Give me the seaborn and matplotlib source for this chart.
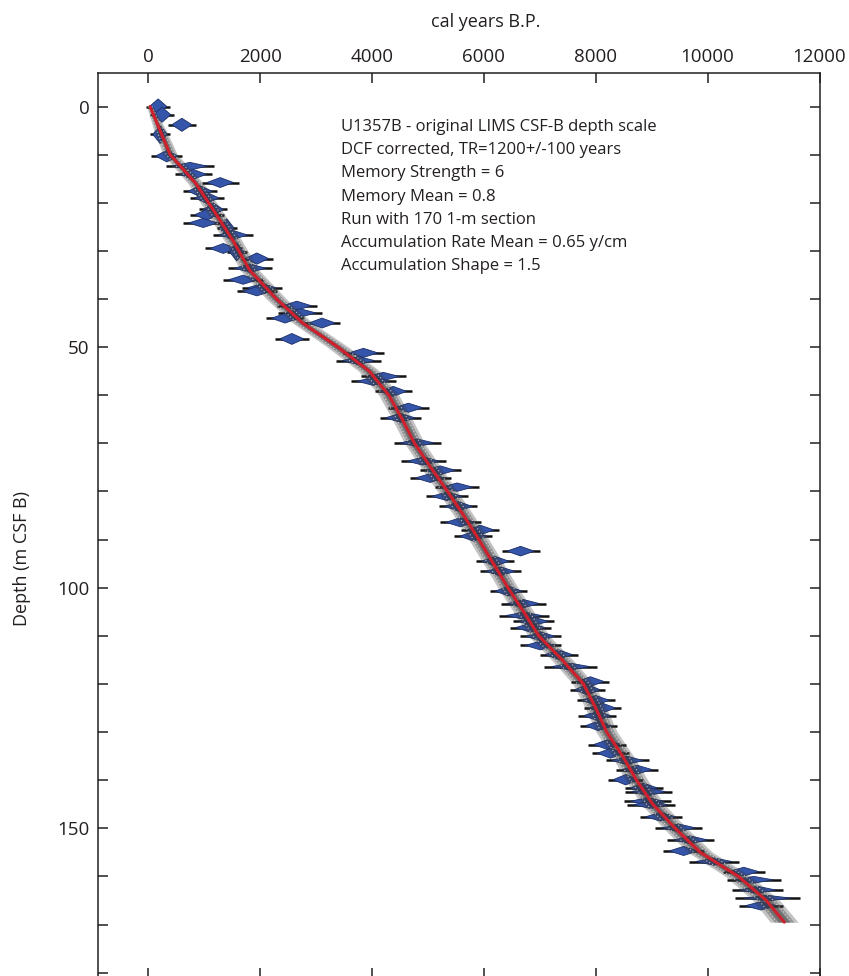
import numpy as np
import pandas as pd
import seaborn as sns
import matplotlib.pyplot as plt
from matplotlib.ticker import MultipleLocator

# mean age-depth model (depth m, age cal BP)
curve_depth = [0, 5, 10, 16, 22, 28, 34, 40, 45, 50, 55, 60, 65, 70, 75, 80, 85,
               90, 95, 100, 105, 110, 115, 120, 125, 130, 135, 140, 145, 150,
               155, 160, 165, 169.5]
curve_age = [30, 210, 390, 850, 1190, 1520, 1810, 2290, 2760, 3390, 3950, 4300,
             4540, 4760, 5050, 5350, 5640, 5910, 6170, 6430, 6710, 6980, 7400,
             7780, 8000, 8195, 8480, 8730, 9020, 9420, 9870, 10550, 11050, 11370]
# half width of the grey model cloud (years)
cloud_half = [60, 110, 130, 140, 150, 160, 170, 180, 180, 190, 190, 180, 180,
              180, 180, 180, 180, 180, 180, 180, 185, 190, 190, 190, 190, 190,
              195, 200, 205, 210, 220, 230, 240, 250]

# calibrated dates: depth, median age, half range
date_depth = [0.0, 1.7, 3.8, 5.8, 10.3, 12.4, 14.1, 15.8, 17.6, 19.0, 21.4, 22.5,
              24.2, 25.2, 26.7, 29.5, 30.2, 31.6, 33.6, 36.0, 37.7, 38.4, 41.4,
              42.9, 44.0, 45.0, 48.3, 51.2, 52.8, 56.1, 57.1, 59.2, 62.6, 64.7,
              69.9, 73.7, 75.6, 77.2, 79.1, 81.0, 83.1, 86.4, 88.0, 89.3, 92.4,
              94.5, 96.6, 100.7, 103.3, 105.8, 107.0, 108.3, 110.1, 112.0, 113.9,
              116.4, 119.5, 121.2, 123.4, 125.0, 126.6, 128.7, 132.6, 134.4,
              135.9, 137.8, 139.9, 141.6, 142.4, 144.4, 145.1, 147.6, 149.9,
              152.4, 154.7, 156.9, 159.0, 160.7, 162.8, 164.5, 166.1]
date_age = [175, 245, 600, 210, 330, 745, 800, 1285, 925, 1045, 1160, 1045,
            980, 1400, 1515, 1340, 1580, 1940, 1820, 1695, 2030, 1940, 2655,
            2715, 2445, 3105, 2565, 3845, 3755, 4200, 4020, 4380, 4650, 4505,
            4805, 4915, 5220, 5040, 5520, 5340, 5545, 5580, 5935, 5810, 6655,
            6205, 6295, 6440, 6705, 6715, 6885, 6830, 7010, 7010, 7335, 7550,
            7905, 7850, 8000, 8115, 8025, 8050, 8205, 8265, 8565, 8740, 8535,
            8855, 8945, 8920, 8980, 9160, 9480, 9695, 9570, 10110, 10645, 10825,
            10890, 11070, 10950]
date_err = [215, 215, 250, 180, 280, 430, 330, 330, 300, 300, 250, 300, 360,
            180, 360, 330, 180, 290, 390, 360, 360, 360, 360, 390, 340, 330,
            300, 360, 400, 400, 400, 330, 360, 370, 420, 400, 370, 370, 390,
            380, 340, 360, 340, 340, 340, 340, 360, 330, 400, 450, 360, 370,
            360, 370, 340, 480, 340, 315, 340, 330, 340, 330, 340, 330, 390,
            375, 315, 340, 420, 420, 430, 375, 420, 420, 360, 450, 375, 480,
            450, 580, 390]

info_lines = ["U1357B - original LIMS CSF-B depth scale",
              "DCF corrected, TR=1200+/-100 years",
              "Memory Strength = 6",
              "Memory Mean = 0.8",
              "Run with 170 1-m section",
              "Accumulation Rate Mean = 0.65 y/cm",
              "Accumulation Shape = 1.5"]

model = pd.DataFrame({'depth': curve_depth, 'age': curve_age, 'half': cloud_half})
dates = pd.DataFrame({'depth': date_depth, 'age': date_age, 'err': date_err})

sns.set_style('white')
plt.rcParams['font.family'] = ['Open Sans', 'DejaVu Sans']
ink = '#231f20'

fig = plt.figure(figsize=(8.49, 9.76), dpi=100)
ax = fig.add_axes([98.3 / 849, 1 - 978 / 976, 721.2 / 849, (978 - 73.3) / 976])

# error range lines of the dates
ax.hlines(dates['depth'], dates['age'] - dates['err'], dates['age'] + dates['err'],
          color='#111111', lw=1.8, zorder=2)

# calibrated distributions drawn as kites
for d, a, e in zip(dates['depth'], dates['age'], dates['err']):
    w = 0.72 * e
    h = min(340 / e, 1.9)
    ax.fill([a - w, a, a + w, a, a - w], [d, d - h, d, d + h, d],
            facecolor='#3455aa', edgecolor='#1c2f66', lw=0.6, zorder=3)

# grey cloud of model iterations
for k, alpha in [(1.0, 0.3), (0.7, 0.35), (0.4, 0.4)]:
    ax.fill_betweenx(model['depth'], model['age'] - k * model['half'],
                     model['age'] + k * model['half'],
                     color='#3a3a3a', alpha=alpha, lw=0, zorder=4)

# dotted 95% range lines
for s in (-0.55, 0.55):
    ax.plot(model['age'] + s * model['half'], model['depth'], color='#dde3f0',
            lw=0.8, ls=(0, (1, 2)), alpha=0.8, zorder=5)

sns.lineplot(data=model, x='age', y='depth', sort=False, estimator=None,
             color='#d0202e', lw=2.2, ax=ax, zorder=6)

ax.text(3444, 2.6, "\n".join(info_lines), ha='left', va='top', fontsize=12,
        color=ink, linespacing=1.6)

ax.set_xlim(-895, 12000)
ax.set_ylim(181.1, -6.9)
ax.xaxis.set_major_locator(MultipleLocator(2000))
ax.yaxis.set_major_locator(MultipleLocator(50))
ax.yaxis.set_minor_locator(MultipleLocator(10))

for sp in ax.spines.values():
    sp.set_color(ink)
    sp.set_linewidth(1.1)
ax.tick_params(which='both', direction='in', length=7.5, width=1.1, color=ink,
               top=True, bottom=True, left=True, right=True,
               labeltop=True, labelbottom=False, labelsize=13.5, labelcolor=ink)
ax.tick_params(axis='x', pad=5.5)
ax.tick_params(axis='y', pad=6.5)

ax.set_xlabel('cal years B.P.', fontsize=13, color=ink)
ax.xaxis.set_label_position('top')
ax.xaxis.set_label_coords(0.5376, 1.0567)
ax.xaxis.label.set_va('center')
ax.set_ylabel('Depth (m CSF B)', fontsize=13, color=ink)
ax.yaxis.set_label_coords(-0.1058, 0.4642)
ax.yaxis.label.set_va('center')
ax.grid(False)

fig.savefig('out.png', dpi=100)
